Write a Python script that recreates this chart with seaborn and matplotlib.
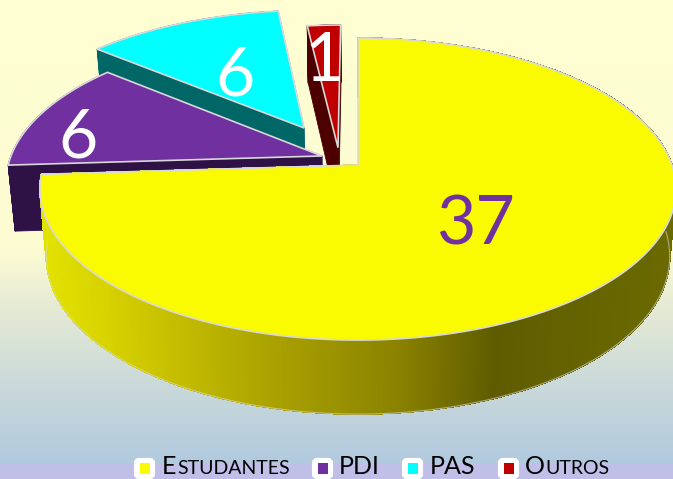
import numpy as np
import matplotlib.pyplot as plt
import seaborn as sns
from matplotlib.colors import LinearSegmentedColormap, to_rgb
from matplotlib.patches import Polygon, FancyBboxPatch, Rectangle
from matplotlib.collections import PolyCollection

# Values and labels
categories = ['Estudantes', 'PDI', 'PAS', 'Outros']
values = [37, 6, 6, 1]
top_colors = ['#FAFA00', '#7030A0', '#00FFFF', '#C00000']
side_colors = ['#A09800', '#2E1245', '#006666', '#4D0000']
label_colors = ['#7030A0', 'white', 'white', 'white']

# how far each slice is pulled out, in pie radii (right, back)
explode = [(0, 0), (-0.116, 0.062), (-0.179, 0.262), (-0.065, 0.12)]
label_pos = [(475, 225), (78, 138), (235, 76), (324, 62)]

sns.set_theme(style='white')
plt.rcParams['font.family'] = ['Lato', 'DejaVu Sans']

fig, ax = plt.subplots(figsize=(6.73, 4.79), dpi=100)
ax.set_position([0, 0, 1, 1])
ax.set_xlim(0, 673)
ax.set_ylim(479, 0)
ax.axis('off')

# Background gradient and the lavender legend band
bg = LinearSegmentedColormap.from_list('bg', [
    (0, '#FFFFD2'), (0.54, '#FCFBD2'), (0.65, '#E8ECD4'),
    (0.82, '#CCDAD9'), (1, '#B2CADF')])
ax.imshow(np.linspace(0, 1, 256)[:, None], cmap=bg, aspect='auto',
          extent=(0, 673, 463, 0), zorder=0)
ax.add_patch(Rectangle((0, 463), 673, 16, color='#BFBFE8', lw=0, zorder=0))


# Perspective view of the pie plane
def project(u, v, low=False):
    w = 1 + 0.159 * v
    x = 358 + 314 * u / w
    y = (165 - 121 * v) / w
    if low:
        x = 358 + (x - 358) * 0.98
        y = y + 66 - 8 * v
    return np.column_stack([x, y])


def wedge_outline(a0, a1, off):
    t = np.radians(np.linspace(a0, a1, 500))
    u = np.concatenate([[0], np.sin(t)]) + off[0]
    v = np.concatenate([[0], np.cos(t)]) + off[1]
    return u, v


wall = LinearSegmentedColormap.from_list('wall', [
    (0, '#E2E200'), (0.1, '#D8D200'), (0.33, '#B0A800'), (0.57, '#8A8200'),
    (0.72, '#5F5C00'), (1, '#6A6A00')])

edges = np.cumsum([0] + values) / sum(values) * 360
palette = sns.color_palette(top_colors)
slices = [(i, edges[i], edges[i + 1]) for i in range(len(values))]

# back to front: PAS, Outros, PDI, Estudantes
for order, (i, a0, a1) in enumerate([slices[2], slices[3], slices[1], slices[0]]):
    u, v = wedge_outline(a0, a1, explode[i])
    top = project(u, v)
    low = project(u, v, low=True)
    quads = []
    cols = []
    for k in range(len(top)):
        n = (k + 1) % len(top)
        quads.append([top[k], top[n], low[n], low[k]])
        if i == 0:
            cols.append(wall(np.clip((top[k][0] - 40) / 633, 0, 1)))
        else:
            cols.append(to_rgb(side_colors[i]))
    z = 2 + 3 * order
    ax.add_collection(PolyCollection(quads, facecolors=cols, edgecolors=cols, linewidths=0.6,
                                     antialiaseds=(i != 0), zorder=z))
    if i == 0:
        front = v < 0
        ax.plot(low[front, 0], low[front, 1], color='#D9D9D9', lw=0.8, alpha=0.6, zorder=z)
    ax.add_patch(Polygon(top, closed=True, fc=palette[i], ec='#D9D9D9', lw=1.2, zorder=z + 1))

for val, pos, col in zip(values, label_pos, label_colors):
    ax.text(pos[0], pos[1], str(val), color=col, fontsize=49, ha='center',
            va='center', zorder=20)

# Legend: small-caps text has to be put together by hand
box_x = [134, 312, 402, 498]
text_x = [162, 339, 430, 525]
fig.canvas.draw()
renderer = fig.canvas.get_renderer()
for name, bx, tx, col in zip(categories, box_x, text_x, palette):
    ax.add_patch(FancyBboxPatch((bx + 2, 460), 17, 17, boxstyle='round,pad=0,rounding_size=3',
                                fc='white', ec='white', lw=3, zorder=20))
    ax.add_patch(Rectangle((bx + 5.5, 463), 10.5, 10.5, fc=col, ec='none', zorder=21))
    t = ax.text(tx, 474.5, name[0], fontsize=18, color='black', va='baseline', zorder=21)
    if len(name) <= 3:
        t.set_text(name)
    else:
        w = t.get_window_extent(renderer).width
        ax.text(tx + w + 0.5, 474.5, name[1:].upper(), fontsize=14, color='black',
                va='baseline', zorder=21)

plt.savefig('out.png', dpi=100)
plt.close()
